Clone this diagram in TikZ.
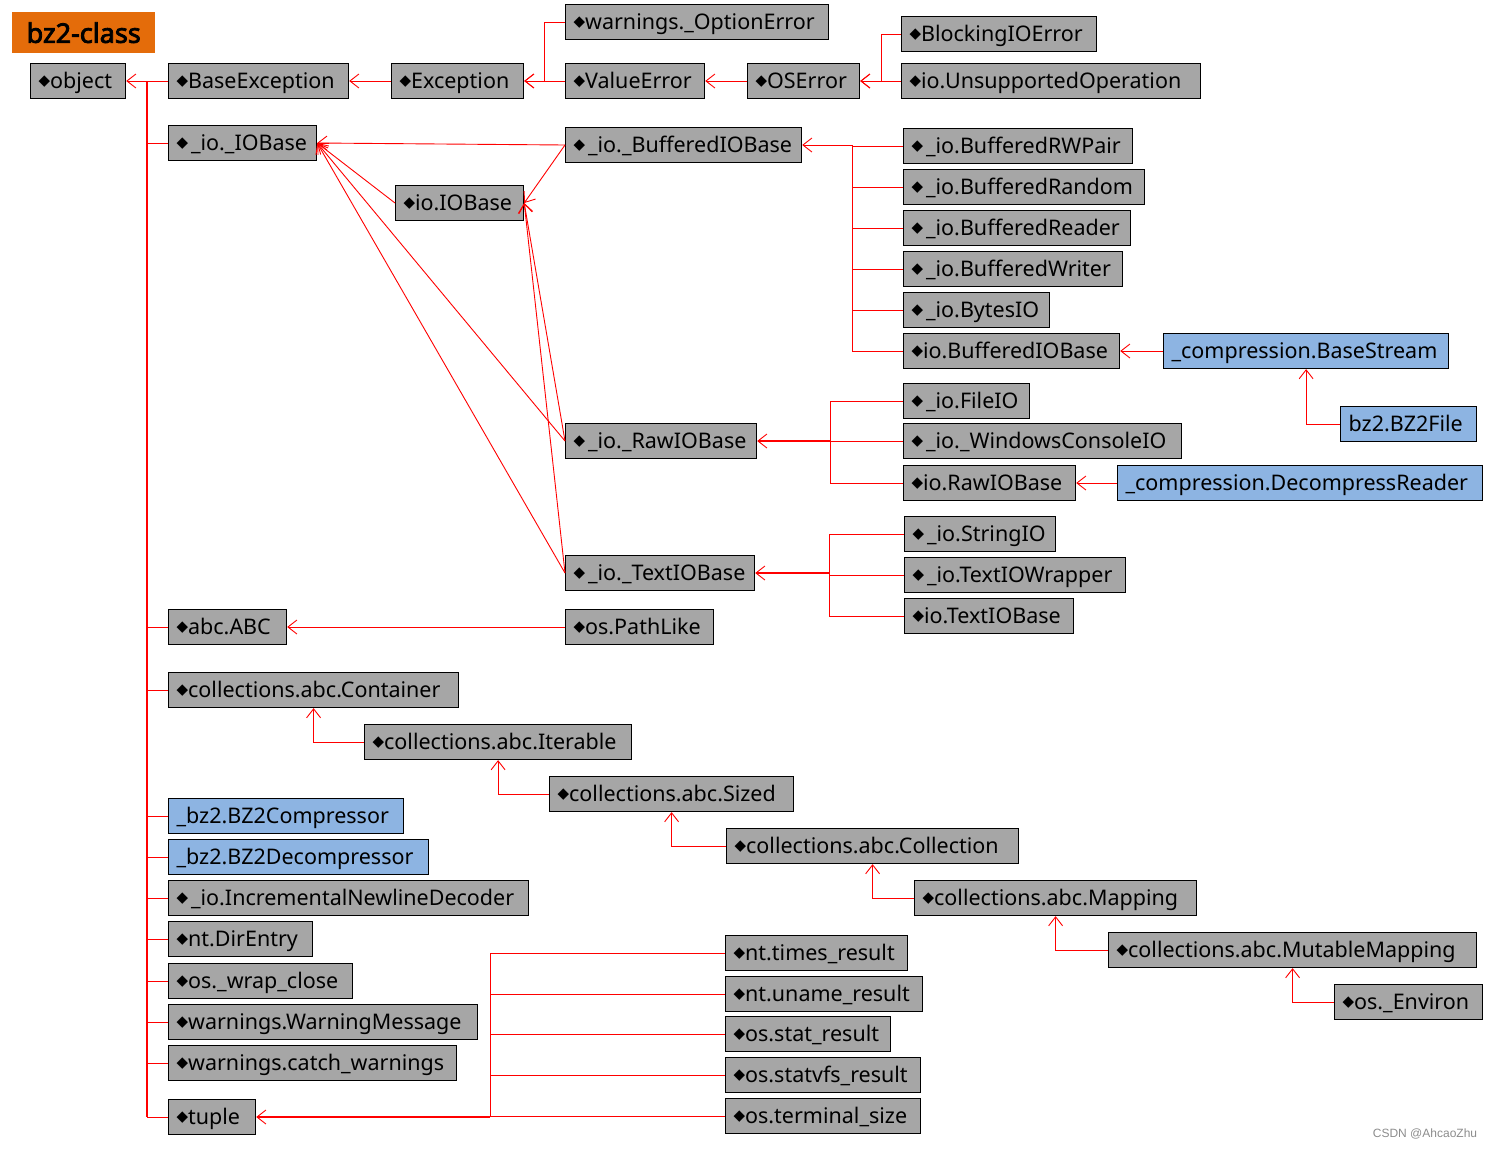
\documentclass[tikz,border=0pt]{standalone}
\usepackage{fontspec}
\setmainfont{Noto Sans}
\newfontfamily\djv{DejaVu Sans}
\newfontfamily\libsans{Liberation Sans}
\newfontfamily\tfont{Noto Sans}[FakeBold=3]
\usetikzlibrary{arrows.meta}
\definecolor{boxgray}{HTML}{A6A6A6}
\definecolor{boxblue}{HTML}{8DB4E2}
\definecolor{titleorange}{HTML}{E46C0A}
\newcommand\dm{\raisebox{2.8pt}{\djv\fontsize{15}{15}\selectfont ◆}}
\newcommand\dms{\dm\hspace{3pt}}
\tikzset{
  gbox/.style={draw=black, line width=1.2pt, fill=boxgray, inner xsep=8pt, inner ysep=0pt,
    minimum height=35pt, text height=17pt, text depth=2pt, align=left,
    font=\fontsize{21.5}{22}\selectfont, text=black},
  bbox/.style={gbox, fill=boxblue},
  conn/.style={draw=red, line width=0.9pt},
  arr/.style={conn, -{Straight Barb[length=9pt,width=14pt,line width=0.9pt]}}
}
\newcommand\bx[6][gbox]{%
  \pgfmathsetmacro\tw{#4-#3-16}%
  \node[#1, text width=\tw pt, anchor=west] (#2) at (#3,#5) {\mbox{#6}};}
\begin{document}
\begin{tikzpicture}[x=1pt,y=-1pt]
\useasboundingbox (0,0) rectangle (1496,1149);
% title
\node[fill=titleorange, anchor=north west, minimum width=143pt, minimum height=41pt, inner sep=0pt,
  font=\tfont\fontsize{27}{30}\selectfont, text=black] (title) at (12,12) {bz2-class};
% boxes
\bx{object}{30}{125}{81}{\dm object}
\bx{baseexc}{168}{348}{81}{\dm BaseException}
\bx{exc}{391}{523}{81}{\dm Exception}
\bx{opterr}{565}{828}{22}{\dm warnings.\_OptionError}
\bx{valerr}{565}{704}{81}{\dm ValueError}
\bx{oserr}{747}{859}{81}{\dm OSError}
\bx{blockerr}{901}{1096}{34}{\dm BlockingIOError}
\bx{unsup}{901}{1200}{81}{\dm io.UnsupportedOperation}
\bx{iobase}{168}{316}{143}{\dms\_io.\_IOBase}
\bx{ioIOBase}{395}{523}{203}{\dm io.IOBase}
\bx{bufbase}{565}{801}{145}{\dms\_io.\_BufferedIOBase}
\bx{rwpair}{903}{1132}{146}{\dms\_io.BufferedRWPair}
\bx{bufrandom}{903}{1144}{187}{\dms\_io.BufferedRandom}
\bx{bufreader}{903}{1130}{228}{\dms\_io.BufferedReader}
\bx{bufwriter}{903}{1122}{269}{\dms\_io.BufferedWriter}
\bx{bytesio}{903}{1049}{310}{\dms\_io.BytesIO}
\bx{iobufbase}{903}{1119}{351}{\dm io.BufferedIOBase}
\bx[bbox]{basestream}{1163}{1448}{351}{\_compression.BaseStream}
\bx[bbox]{bzfile}{1340}{1476}{424}{bz2.BZ2File}
\bx{rawbase}{565}{756}{441}{\dms\_io.\_RawIOBase}
\bx{fileio}{903}{1029}{401}{\dms\_io.FileIO}
\bx{winio}{903}{1181}{441}{\dms\_io.\_WindowsConsoleIO}
\bx{iorawbase}{903}{1075}{483}{\dm io.RawIOBase}
\bx[bbox]{decomp}{1117}{1482}{483}{\_compression.DecompressReader}
\bx{textbase}{565}{754}{573}{\dms\_io.\_TextIOBase}
\bx{stringio}{904}{1055}{534}{\dms\_io.StringIO}
\bx{textwrap}{904}{1125}{575}{\dms\_io.TextIOWrapper}
\bx{iotextbase}{904}{1073}{616}{\dm io.TextIOBase}
\bx{abc}{168}{286}{627}{\dm abc.ABC}
\bx{pathlike}{565}{713}{627}{\dm os.PathLike}
\bx{container}{168}{458}{690}{\dm collections.abc.Container}
\bx{iterable}{364}{631}{742}{\dm collections.abc.Iterable}
\bx{sized}{549}{793}{794}{\dm collections.abc.Sized}
\bx{collection}{726}{1018}{846}{\dm collections.abc.Collection}
\bx{mapping}{914}{1196}{898}{\dm collections.abc.Mapping}
\bx{mutmap}{1108}{1476}{950}{\dm collections.abc.MutableMapping}
\bx{environ}{1334}{1482}{1002}{\dm os.\_Environ}
\bx[bbox]{comp}{168}{403}{816}{\_bz2.BZ2Compressor}
\bx[bbox]{decompr}{168}{428}{857}{\_bz2.BZ2Decompressor}
\bx{incdec}{168}{528}{898}{\dms\_io.IncrementalNewlineDecoder}
\bx{direntry}{168}{312}{939}{\dm nt.DirEntry}
\bx{wrapclose}{168}{352}{981}{\dm os.\_wrap\_close}
\bx{warnmsg}{168}{477}{1022}{\dm warnings.WarningMessage}
\bx{catchw}{168}{456}{1063}{\dm warnings.catch\_warnings}
\bx{tuple}{168}{255}{1117}{\dm tuple}
\bx{times}{725}{907}{953}{\dm nt.times\_result}
\bx{uname}{725}{922}{994}{\dm nt.uname\_result}
\bx{stat}{725}{890}{1034}{\dm os.stat\_result}
\bx{statvfs}{725}{920}{1075}{\dm os.statvfs\_result}
\bx{termsize}{725}{920}{1116}{\dm os.terminal\_size}
% junction coordinates
\coordinate (trunk) at (147,0);
\coordinate (j1) at (544,0);
\coordinate (j2) at (881,0);
\coordinate (j3) at (852,0);
\coordinate (j4) at (830,0);
\coordinate (j5) at (829,0);
\coordinate (j6) at (490,0);
% trunk
\draw[conn, line width=1.8pt] (trunk |- object.east) -- (trunk |- tuple.west);
\draw[arr] (baseexc.west) -- (object.east);
\foreach \n in {iobase,abc,container,comp,decompr,incdec,direntry,wrapclose,warnmsg,catchw,tuple}
  \draw[conn] (\n.west) -- (\n.west -| trunk);
% exceptions
\draw[arr] (exc.west) -- (baseexc.east);
\draw[arr] (valerr.west) -- (exc.east);
\draw[arr] (opterr.west) -| (j1 |- exc.east) -- (exc.east);
\draw[arr] (oserr.west) -- (valerr.east);
\draw[arr] (blockerr.west) -| (j2 |- oserr.east) -- (oserr.east);
\draw[arr] (unsup.west) -- (oserr.east);
% io bases
\foreach \n in {bufbase,ioIOBase,rawbase,textbase}
  \draw[arr] (\n.west) -- (iobase.east);
\foreach \n in {bufbase,rawbase,textbase}
  \draw[arr] (\n.west) -- (ioIOBase.east);
% buffered
\foreach \n in {rwpair,bufrandom,bufreader,bufwriter,bytesio,iobufbase}
  \draw[conn] (\n.west) -| (j3 |- bufbase.east);
\draw[arr] (j3 |- bufbase.east) -- (bufbase.east);
\draw[arr] (basestream.west) -- (iobufbase.east);
\draw[arr] (bzfile.west) -| (basestream.south);
% raw
\foreach \n in {fileio,winio,iorawbase}
  \draw[conn] (\n.west) -| (j4 |- rawbase.east);
\draw[arr, line width=1.4pt] (j4 |- rawbase.east) -- (rawbase.east);
\draw[arr] (decomp.west) -- (iorawbase.east);
% text
\foreach \n in {stringio,textwrap,iotextbase}
  \draw[conn] (\n.west) -| (j5 |- textbase.east);
\draw[arr, line width=1.4pt] (j5 |- textbase.east) -- (textbase.east);
% abc
\draw[arr] (pathlike.west) -- (abc.east);
\draw[arr] (iterable.west) -| (container.south);
\draw[arr] (sized.west) -| (iterable.south);
\draw[arr] (collection.west) -| (sized.south);
\draw[arr] (mapping.west) -| (collection.south);
\draw[arr] (mutmap.west) -| (mapping.south);
\draw[arr] (environ.west) -| (mutmap.south);
% tuple
\foreach \n in {times,uname,stat,statvfs,termsize}
  \draw[conn] (\n.west) -| (j6 |- tuple.east);
\draw[arr, line width=1.4pt] (j6 |- tuple.east) -- (tuple.east);
% watermark
\node[text=black!45, font=\libsans\fontsize{12}{14}\selectfont] (wm) at (1425,1134) {CSDN @AhcaoZhu};
\end{tikzpicture}
\end{document}
